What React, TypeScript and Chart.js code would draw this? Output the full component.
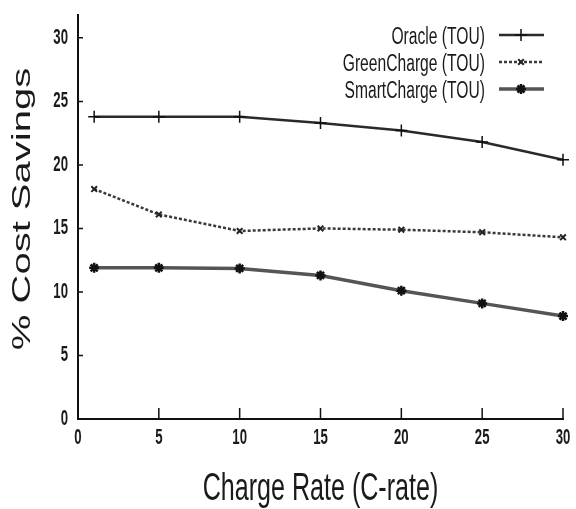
import React, { useEffect, useRef } from 'react';
import { Chart, registerables } from 'chart.js';

Chart.register(...registerables);

const chargeRates = [1, 5, 10, 15, 20, 25, 30];
const oracle = [23.8, 23.8, 23.8, 23.3, 22.7, 21.8, 20.4];
const greenCharge = [18.1, 16.1, 14.8, 15.0, 14.9, 14.7, 14.3];
const smartCharge = [11.9, 11.9, 11.85, 11.3, 10.1, 9.1, 8.1];
const seriesNames = ['Oracle (TOU)', 'GreenCharge (TOU)', 'SmartCharge (TOU)'];
const xTickValues = [0, 5, 10, 15, 20, 25, 30];
const yTickValues = [0, 5, 10, 15, 20, 25, 30];
const xTitle = 'Charge Rate (C-rate)';
const yTitle = '% Cost Savings';

const TEXT_FONT = "'Liberation Sans', Arial, sans-serif";

function drawMarker(ctx: CanvasRenderingContext2D, style: string, x: number, y: number, r: number, color: string, lw: number) {
  ctx.save();
  ctx.strokeStyle = color;
  ctx.lineWidth = lw;
  ctx.setLineDash([]);
  ctx.beginPath();
  if (style === 'cross' || style === 'star') {
    ctx.moveTo(x - r, y); ctx.lineTo(x + r, y);
    ctx.moveTo(x, y - r); ctx.lineTo(x, y + r);
  }
  if (style === 'crossRot' || style === 'star') {
    const d = r * 0.7;
    ctx.moveTo(x - d, y - d); ctx.lineTo(x + d, y + d);
    ctx.moveTo(x - d, y + d); ctx.lineTo(x + d, y - d);
  }
  ctx.stroke();
  ctx.restore();
}

function condensedText(ctx: CanvasRenderingContext2D, text: string, x: number, y: number, size: number, sx: number, align: CanvasTextAlign, baseline: CanvasTextBaseline, weight = 'normal') {
  ctx.save();
  ctx.fillStyle = '#1a1a1a';
  ctx.font = `${weight} ${size}px ${TEXT_FONT}`;
  ctx.textAlign = align;
  ctx.textBaseline = baseline;
  ctx.translate(x, y);
  ctx.scale(sx, 1);
  ctx.fillText(text, 0, 0);
  ctx.restore();
}

const decorPlugin = {
  id: 'decor',
  afterDraw(chart: any) {
    const ctx: CanvasRenderingContext2D = chart.ctx;
    const xs = chart.scales.x;
    const ys = chart.scales.y;
    const area = chart.chartArea;
    // inward tick marks
    ctx.save();
    ctx.strokeStyle = '#111';
    ctx.lineWidth = 1.5;
    ctx.beginPath();
    xs.ticks.forEach((t: any) => {
      const px = xs.getPixelForValue(t.value);
      ctx.moveTo(px, area.bottom);
      ctx.lineTo(px, area.bottom - 11);
    });
    ys.ticks.forEach((t: any) => {
      const py = ys.getPixelForValue(t.value);
      ctx.moveTo(area.left, py);
      ctx.lineTo(area.left + 5, py);
    });
    ctx.stroke();
    ctx.restore();

    // tick labels (condensed)
    xs.ticks.forEach((t: any) => {
      const px = xs.getPixelForValue(t.value);
      condensedText(ctx, String(t.value), px, area.bottom + 25, 22, 0.6, 'center', 'alphabetic', 'bold');
    });
    ys.ticks.forEach((t: any) => {
      const py = ys.getPixelForValue(t.value);
      condensedText(ctx, String(t.value), area.left - 10, py + 6, 22, 0.6, 'right', 'alphabetic', 'bold');
    });

    // x title (condensed)
    condensedText(ctx, xTitle, (area.left + area.right) / 2, 500, 38, 0.66, 'center', 'alphabetic');

    // y title (rotated, condensed thickness)
    ctx.save();
    ctx.fillStyle = '#1a1a1a';
    ctx.font = `40px ${TEXT_FONT}`;
    ctx.textAlign = 'center';
    ctx.textBaseline = 'middle';
    ctx.translate(23, 209);
    ctx.rotate(-Math.PI / 2);
    ctx.scale(1, 0.66);
    ctx.fillText(yTitle, 0, 0);
    ctx.restore();

    // legend
    const rows = [35, 62, 89];
    const ds = chart.data.datasets;
    rows.forEach((ry, i) => {
      condensedText(ctx, seriesNames[i], 485, ry + 9, 23, 0.68, 'right', 'alphabetic');
      const d = ds[i];
      ctx.save();
      ctx.strokeStyle = d.borderColor;
      ctx.lineWidth = d.borderWidth;
      ctx.setLineDash(d.borderDash || []);
      ctx.beginPath();
      ctx.moveTo(499, ry);
      ctx.lineTo(544, ry);
      ctx.stroke();
      ctx.restore();
      drawMarker(ctx, d.pointStyle, 521, ry, d.pointRadius, d.pointBorderColor, d.pointBorderWidth);
    });
  },
};

export default function App() {
  const canvasRef = useRef<HTMLCanvasElement | null>(null);

  useEffect(() => {
    const canvas = canvasRef.current;
    if (!canvas) return;
    const chart = new Chart(canvas, {
      type: 'line',
      data: {
        datasets: [
          {
            label: seriesNames[0],
            data: chargeRates.map((x, i) => ({ x, y: oracle[i] })),
            borderColor: '#2a2a2a',
            borderWidth: 2.5,
            pointStyle: 'cross',
            pointRadius: 6,
            pointBorderColor: '#111',
            pointBorderWidth: 1.5,
            fill: false,
            tension: 0,
          },
          {
            label: seriesNames[1],
            data: chargeRates.map((x, i) => ({ x, y: greenCharge[i] })),
            borderColor: '#3a3a3a',
            borderWidth: 2.5,
            borderDash: [3, 2],
            pointStyle: 'crossRot',
            pointRadius: 4,
            pointBorderColor: '#222',
            pointBorderWidth: 2,
            fill: false,
            tension: 0,
          },
          {
            label: seriesNames[2],
            data: chargeRates.map((x, i) => ({ x, y: smartCharge[i] })),
            borderColor: '#555',
            borderWidth: 3.5,
            pointStyle: 'star',
            pointRadius: 5,
            pointBorderColor: '#111',
            pointBorderWidth: 2.5,
            fill: false,
            tension: 0,
          },
        ],
      },
      options: {
        responsive: false,
        animation: false,
        clip: false as any,
        layout: { padding: { left: 8, top: 15, right: 13, bottom: 0 } },
        plugins: {
          legend: { display: false },
          tooltip: { enabled: false },
          title: { display: false },
        },
        scales: {
          x: {
            type: 'linear',
            min: 0,
            max: 30,
            grid: { display: false, drawTicks: false },
            border: { display: true, color: '#111', width: 2 },
            afterBuildTicks: (scale: any) => {
              scale.ticks = xTickValues.map((v) => ({ value: v }));
            },
            afterFit: (scale: any) => {
              scale.height = 90;
            },
            ticks: { display: false },
          },
          y: {
            type: 'linear',
            min: 0,
            max: 31.8,
            grid: { display: false, drawTicks: false },
            border: { display: true, color: '#111', width: 2 },
            afterBuildTicks: (scale: any) => {
              scale.ticks = yTickValues.map((v) => ({ value: v }));
            },
            afterFit: (scale: any) => {
              scale.width = 70;
            },
            ticks: { display: false },
          },
        },
      },
      plugins: [decorPlugin],
    } as any);
    return () => chart.destroy();
  }, []);

  return (
    <div style={{ position: 'absolute', left: 0, top: 0, width: 576, height: 509, background: '#fff' }}>
      <canvas ref={canvasRef} width={576} height={509} style={{ display: 'block' }} />
    </div>
  );
}
